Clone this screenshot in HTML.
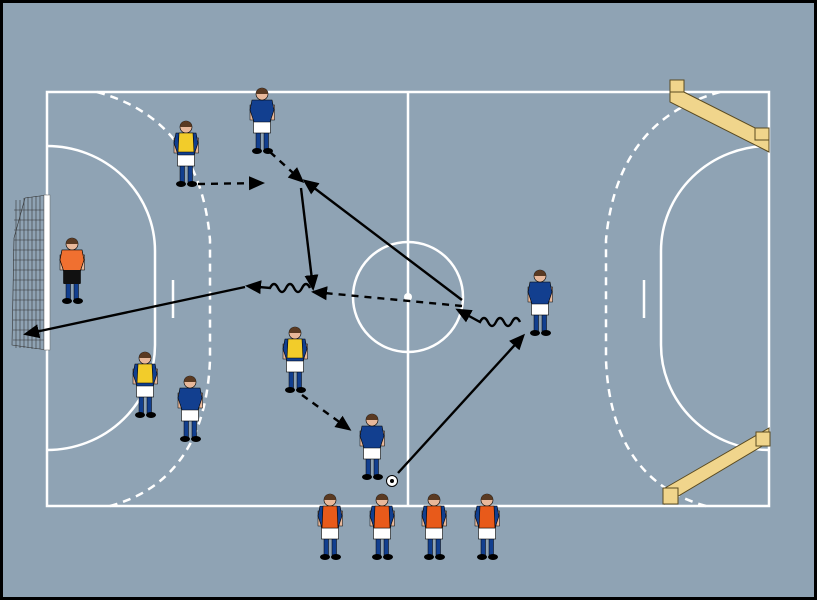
<!DOCTYPE html>
<html><head><style>html,body{margin:0;padding:0}body{width:817px;height:600px;overflow:hidden}</style></head>
<body>
<svg width="817" height="600" viewBox="0 0 817 600" xmlns="http://www.w3.org/2000/svg">
<defs>
<marker id="ah" markerWidth="16" markerHeight="16" refX="13" refY="7" orient="auto" markerUnits="userSpaceOnUse" viewBox="0 0 16 14"><path d="M0,0 L16,7 L0,14 z" fill="#000"/></marker>
<g id="pl">
 <rect x="-6" y="44" width="4.5" height="17" fill="#123f8f" stroke="#000" stroke-width=".5"/>
 <rect x="2" y="44" width="4.5" height="17" fill="#123f8f" stroke="#000" stroke-width=".5"/>
 <ellipse cx="-5" cy="63" rx="5" ry="3" fill="#000"/><ellipse cx="6" cy="63" rx="5" ry="3" fill="#000"/>
 <rect x="-12" y="17" width="3.5" height="15" fill="#e8b89a" stroke="#000" stroke-width=".5"/>
 <rect x="9" y="17" width="3.5" height="15" fill="#e8b89a" stroke="#000" stroke-width=".5"/>
 <rect x="-8.5" y="31" width="17" height="14" fill="#fff" stroke="#000" stroke-width=".6"/>
 <path d="M-10,12 L10,12 L12,22 L8,34 L-8,34 L-12,22 z" fill="#123f8f" stroke="#000" stroke-width=".6"/>
 <circle cx="0" cy="6" r="6" fill="#e8b89a" stroke="#000" stroke-width=".6"/>
 <path d="M-6,6 A6,6 0 0 1 6,6 Z" fill="#5a3a22"/>
</g>
<g id="bib"><path d="M-7,12 L7,12 L8,34 L-8,34 z" fill="#e85a1a" stroke="#000" stroke-width=".6"/></g>
<g id="ybib"><path d="M-7,12 L7,12 L8,31 L-8,31 z" fill="#f2cc2a" stroke="#000" stroke-width=".6"/></g>
</defs>
<rect x="1.5" y="1.5" width="814" height="597" fill="#8fa3b4" stroke="#000" stroke-width="3"/>
<g fill="none" stroke="#fff" stroke-width="2.5">
 <rect x="47" y="92" width="722" height="414"/>
 <line x1="408" y1="92" x2="408" y2="506"/>
 <circle cx="408" cy="297" r="55"/>
 <path d="M47,146 A108,105 0 0 1 155,251 L155,345 A108,105 0 0 1 47,450"/>
 <path d="M769,146 A108,105 0 0 0 661,251 L661,345 A108,105 0 0 0 769,450"/>
 <line x1="173" y1="280" x2="173" y2="318"/><line x1="644" y1="280" x2="644" y2="318"/>
 <g stroke-dasharray="8,6">
 <path d="M97,92 Q200,120 210,240 L210,360 Q205,480 110,506"/>
 <path d="M720,92 Q617,120 606,240 L606,360 Q611,480 706,506"/>
 </g>
</g>
<circle cx="408" cy="297" r="4" fill="#fff"/>
<g stroke="#333" stroke-width=".6" fill="none">
 <path d="M47,195 L25,198 L14,238 L12,345 L47,350"/>
 <line x1="16" y1="200" x2="16" y2="348"/><line x1="20" y1="200" x2="20" y2="348"/><line x1="24" y1="198" x2="24" y2="348"/><line x1="28" y1="197" x2="28" y2="348"/><line x1="32" y1="197" x2="32" y2="349"/><line x1="36" y1="196" x2="36" y2="349"/><line x1="40" y1="196" x2="40" y2="349"/><line x1="44" y1="195" x2="44" y2="350"/>
 <path d="M14,210 H47 M14,220 H47 M14,230 H47 M14,240 H47 M13,250 H47 M13,260 H47 M13,270 H47 M13,280 H47 M13,290 H47 M13,300 H47 M13,310 H47 M13,320 H47 M13,330 H47 M13,340 H47"/>
</g>
<rect x="44" y="195" width="6" height="155" fill="#fff" stroke="#666" stroke-width=".5"/>
<g fill="#f0d58c" stroke="#5a4a20" stroke-width="1">
 <path d="M670,85 L769,135 L769,152 L670,102 z"/>
 <path d="M670,80 L684,80 L684,92 L670,92z"/><path d="M755,128 L769,128 L769,140 L755,140z"/>
 <path d="M665,488 L769,428 L769,442 L665,504 z"/>
 <path d="M663,488 L678,488 L678,504 L663,504z"/><path d="M756,432 L770,432 L770,446 L756,446z"/>
</g>
<g stroke="#000" stroke-width="2.4" fill="none" marker-end="url(#ah)">
 <line x1="198" y1="184" x2="262" y2="183" stroke-dasharray="7,6"/>
 <line x1="270" y1="152" x2="302" y2="181" stroke-dasharray="7,6"/>
 <line x1="301" y1="188" x2="313" y2="288"/>
 <line x1="462" y1="300" x2="305" y2="181"/>
 <line x1="462" y1="306" x2="314" y2="292" stroke-dasharray="7,6"/>
 <path d="M520,322 q-4,-8 -8,0 q-4,8 -8,0 q-4,-8 -8,0 q-4,8 -8,0 q-4,-8 -8,0 l-22,-12"/>
 <path d="M310,288 q-4,-8 -8,0 q-4,8 -8,0 q-4,-8 -8,0 q-4,8 -8,0 q-4,-8 -8,0 l-22,-2"/>
 <line x1="245" y1="287" x2="26" y2="334"/>
 <line x1="302" y1="395" x2="349" y2="429" stroke-dasharray="7,6"/>
 <line x1="398" y1="473" x2="523" y2="336"/>
</g>
<use href="#pl" x="262" y="88"/>
<use href="#pl" x="186" y="121"/><use href="#ybib" x="186" y="121"/>
<g transform="translate(72,238)"><use href="#pl"/><path d="M-10,12 L10,12 L12,22 L8,34 L-8,34 L-12,22 z" fill="#f07030" stroke="#000" stroke-width=".6"/><rect x="-8.5" y="32" width="17" height="14" fill="#111"/></g>
<use href="#pl" x="540" y="270"/>
<use href="#pl" x="295" y="327"/><use href="#ybib" x="295" y="327"/>
<use href="#pl" x="145" y="352"/><use href="#ybib" x="145" y="352"/>
<use href="#pl" x="190" y="376"/>
<use href="#pl" x="372" y="414"/>
<circle cx="392" cy="481" r="5.5" fill="#fff" stroke="#000"/><circle cx="392" cy="481" r="2" fill="#000"/>
<use href="#pl" x="330" y="494"/><use href="#bib" x="330" y="494"/>
<use href="#pl" x="382" y="494"/><use href="#bib" x="382" y="494"/>
<use href="#pl" x="434" y="494"/><use href="#bib" x="434" y="494"/>
<use href="#pl" x="487" y="494"/><use href="#bib" x="487" y="494"/>
</svg>
</body></html>
